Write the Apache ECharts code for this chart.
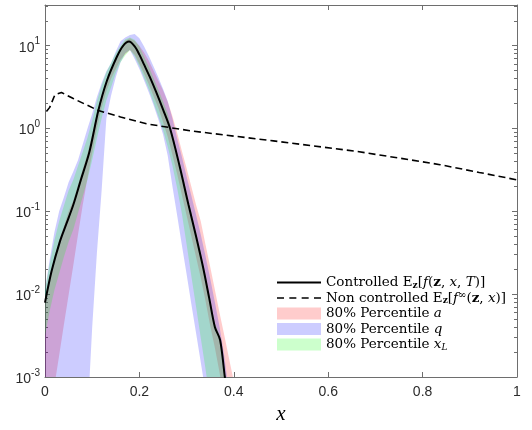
<!DOCTYPE html>
<html><head><meta charset="utf-8">
<script src="https://cdn.jsdelivr.net/npm/echarts@6/dist/echarts.min.js"></script>
<style>html,body{margin:0;padding:0;background:#fff}#c{width:532px;height:430px}</style>
</head><body><div id="c"></div>
<script>
// ---- data ----
const blackX = [0.000,0.014,0.032,0.045,0.060,0.075,0.094,0.113,0.131,0.152,0.165,0.178,0.190,0.200,0.210,0.222,0.235,0.250,0.265,0.285,0.304,0.320,0.335,0.348,0.360,0.371,0.381,0.386];
const blackY = [0.0079,0.019,0.044,0.07,0.12,0.23,0.52,1.65,3.75,7.3,9.9,11.2,9.8,7.8,5.9,4.2,2.8,1.7,1.0,0.355,0.12,0.050,0.021,0.0089,0.0040,0.0028,0.0010,0.0006];

const dashX = [0.003,0.010,0.021,0.035,0.060,0.113,0.160,0.215,0.307,0.400,0.484,0.570,0.660,0.750,0.837,0.920,1.000];
const dashY = [1.60,1.80,2.56,2.72,2.30,1.65,1.38,1.14,0.94,0.81,0.71,0.615,0.53,0.44,0.366,0.295,0.24];

const bandX = [0,0.01,0.02,0.03,0.04,0.05,0.06,0.07,0.08,0.09,0.10,0.11,0.12,0.13,0.14,0.15,0.16,0.17,0.18,0.19,0.20,0.21,0.22,0.23,0.24,0.25,0.26,0.27,0.28,0.29,0.30,0.31,0.32,0.33,0.34,0.35,0.36,0.37,0.38,0.39,0.40,0.41];

const aLower = [0.00032,0.0005,0.00079,0.00182,0.00427,0.00977,0.0224,0.0525,0.12,0.251,0.501,1.0,1.78,2.82,3.98,5.25,6.76,7.94,8.9,7.76,6.03,4.57,3.39,2.45,1.78,1.20,0.794,0.479,0.282,0.158,0.0891,0.0501,0.0282,0.0158,0.00832,0.00417,0.00224,0.00112,0.0005,0.00025,0.00016,0.0001];
const aUpper = [0.00891,0.0166,0.0282,0.0447,0.0661,0.1,0.135,0.209,0.324,0.501,0.851,1.51,2.51,3.89,5.25,7.24,9.33,11.5,12.3,11.5,10.0,8.3,6.6,5.0,3.8,2.9,2.1,1.41,0.891,0.537,0.331,0.2,0.12,0.0759,0.0398,0.0214,0.0112,0.00589,0.00316,0.00166,0.00089,0.0004];

const qLower = [0.0001,0.0001,0.0001,0.0001,0.0001,0.0001,0.0001,0.0001,0.0001,0.00032,0.00398,0.0316,0.178,1.32,2.51,4.17,6.31,8.1,8.9,6.9,5.25,3.8,2.72,1.91,1.29,0.85,0.468,0.2,0.0891,0.0389,0.0174,0.00759,0.00339,0.00151,0.00066,0.0001,0.0001,0.0001,0.0001,0.0001,0.0001,0.0001];
const qUpper = [0.0112,0.0263,0.0562,0.1,0.148,0.224,0.302,0.417,0.646,1.0,1.51,2.40,3.55,4.90,6.17,8.51,11.3,12.6,13.5,13.8,12.3,9.8,7.5,5.62,4.17,3.02,2.14,1.32,0.759,0.457,0.263,0.155,0.0912,0.0525,0.0288,0.0155,0.00794,0.00398,0.00178,0.00063,0.00025,0.0001];

const xLLower = [0.00316,0.00631,0.0112,0.0178,0.0282,0.0427,0.0603,0.0955,0.151,0.240,0.417,0.759,1.32,2.19,3.16,4.68,6.31,7.59,8.9,7.41,5.62,4.07,2.95,2.04,1.41,0.955,0.603,0.355,0.19,0.0933,0.0398,0.0166,0.00708,0.00295,0.00126,0.0005,0.0001,0.0001,0.0001,0.0001,0.0001,0.0001];
const xLUpper = [0.0112,0.0234,0.0447,0.0759,0.117,0.178,0.240,0.355,0.525,0.776,1.26,2.14,3.31,4.79,6.17,8.13,10.0,12.0,12.6,11.8,9.8,7.4,5.56,4.07,2.95,2.14,1.51,0.851,0.513,0.309,0.170,0.0977,0.0562,0.0316,0.0170,0.00871,0.00447,0.00316,0.00126,0.0004,0.0001,0.0001];

const yMajorTicks = [0.001,0.01,0.1,1,10];
const yMinorTicks = [0.002,0.003,0.004,0.005,0.006,0.007,0.008,0.009,0.02,0.03,0.04,0.05,0.06,0.07,0.08,0.09,0.2,0.3,0.4,0.5,0.6,0.7,0.8,0.9,2,3,4,5,6,7,8,9,20,30];

const legendLabels = {
  ctrl: 'Controlled E{sub|z}[{it|f}({bz|z}, {it|x}, {it|T})]',
  nonctrl: 'Non controlled E{sub|z}[{it|f}{sup|∞}({bz|z}, {it|x})]',
  a: '80% Percentile {it|a}',
  q: '80% Percentile {it|q}',
  xL: '80% Percentile {it|x}{subL|L}'
};

// ---- chart ----
const AX = '#6e6e6e';
const LBL = '#2b2b2b';
const chart = echarts.init(document.getElementById('c'), null, {renderer: 'canvas'});

function band(name, lower, upper, color) {
  return {
    name: name, type: 'custom', silent: true, clip: true,
    itemStyle: {color: color}, emphasis: {disabled: true},
    encode: {x: 0, y: [1, 2]},
    data: bandX.map((x, i) => [x, lower[i], upper[i]]),
    renderItem: function (params, api) {
      if (params.dataIndex !== 0) return null;
      const pts = [];
      for (let i = 0; i < bandX.length; i++) pts.push(api.coord([bandX[i], upper[i]]));
      for (let i = bandX.length - 1; i >= 0; i--) pts.push(api.coord([bandX[i], lower[i]]));
      const cs = params.coordSys;
      return {
        type: 'polygon', shape: {points: pts}, style: {fill: color},
        clipPath: {type: 'rect', shape: {x: cs.x, y: cs.y, width: cs.width, height: cs.height}}
      };
    }
  };
}

const yCommon = {type: 'log', min: 0.001, max: 31, splitLine: {show: false}};
const SERIF = 'DejaVu Serif';
const serifRich = {
  it: {fontFamily: SERIF, fontSize: 13.5, fontStyle: 'italic', lineHeight: 15},
  bz: {fontFamily: SERIF, fontSize: 13.5, fontWeight: 'bold', lineHeight: 15},
  sub: {fontFamily: SERIF, fontSize: 9, fontWeight: 'bold', verticalAlign: 'bottom', lineHeight: 9},
  subL: {fontFamily: SERIF, fontSize: 9, fontStyle: 'italic', verticalAlign: 'bottom', lineHeight: 9},
  sup: {fontFamily: SERIF, fontSize: 10, verticalAlign: 'top', lineHeight: 10}
};

const solidIcon = 'path://M0,0H44V2H0Z';
const dashIcon = 'path://M0,0H7V1.7H0Z M12.3,0H19.3V1.7H12.3Z M24.6,0H31.6V1.7H24.6Z M36.9,0H43.9V1.7H36.9Z';

chart.setOption({
  animation: false,
  backgroundColor: '#fff',
  grid: {left: 45, right: 15, top: 5, bottom: 53, containLabel: false},
  xAxis: [
    {type: 'value', min: 0, max: 1, interval: 0.2, position: 'bottom',
     axisLine: {onZero: false, lineStyle: {color: AX, width: 1}},
     axisTick: {inside: true, length: 5, lineStyle: {color: AX}},
     axisLabel: {color: LBL, fontFamily: 'Liberation Sans', fontSize: 14, margin: 8},
     splitLine: {show: false},
     name: 'x', nameLocation: 'middle', nameGap: 20,
     nameTextStyle: {fontFamily: 'Liberation Serif', fontStyle: 'italic', fontSize: 21, color: '#000'}},
    {type: 'value', min: 0, max: 1, interval: 0.2, position: 'top',
     axisLine: {onZero: false, lineStyle: {color: AX, width: 1}},
     axisTick: {inside: true, length: 5, lineStyle: {color: AX}},
     axisLabel: {show: false}, splitLine: {show: false}}
  ],
  yAxis: [
    Object.assign({}, yCommon, {position: 'left',
      axisLine: {show: true, lineStyle: {color: AX, width: 1}},
      axisTick: {show: true, inside: true, length: 5, customValues: yMajorTicks, lineStyle: {color: AX}},
      axisLabel: {customValues: yMajorTicks, margin: 5, color: LBL,
        formatter: v => '{b|10}{s|' + Math.round(Math.log10(v)) + '}',
        rich: {b: {fontFamily: 'Liberation Sans', fontSize: 14, color: LBL, lineHeight: 18, verticalAlign: 'bottom'},
               s: {fontFamily: 'Liberation Sans', fontSize: 10, color: LBL, lineHeight: 10, verticalAlign: 'top'}}}}),
    Object.assign({}, yCommon, {position: 'left',
      axisLine: {show: false},
      axisTick: {show: true, inside: true, length: 3, customValues: yMinorTicks, lineStyle: {color: AX}},
      axisLabel: {show: false}}),
    Object.assign({}, yCommon, {position: 'right',
      axisLine: {show: true, lineStyle: {color: AX, width: 1}},
      axisTick: {show: true, inside: true, length: 5, customValues: yMajorTicks, lineStyle: {color: AX}},
      axisLabel: {show: false}}),
    Object.assign({}, yCommon, {position: 'right',
      axisLine: {show: false},
      axisTick: {show: true, inside: true, length: 3, customValues: yMinorTicks, lineStyle: {color: AX}},
      axisLabel: {show: false}})
  ],
  legend: {
    orient: 'vertical', left: 277, top: 275, padding: 0, itemGap: 0.5,
    itemWidth: 44, itemHeight: 12, selectedMode: false,
    data: [
      {name: 'ctrl', icon: solidIcon, itemStyle: {color: '#000', borderWidth: 0}},
      {name: 'nonctrl', icon: dashIcon, itemStyle: {color: '#000', borderWidth: 0}},
      {name: 'a', icon: 'rect', itemStyle: {color: 'rgb(255,204,204)', borderWidth: 0}},
      {name: 'q', icon: 'rect', itemStyle: {color: 'rgb(204,204,255)', borderWidth: 0}},
      {name: 'xL', icon: 'rect', itemStyle: {color: 'rgb(204,255,204)', borderWidth: 0}}
    ],
    formatter: n => legendLabels[n],
    textStyle: {fontFamily: SERIF, fontSize: 13.5, lineHeight: 15, color: '#000', rich: serifRich}
  },
  series: [
    band('a', aLower, aUpper, 'rgba(255,0,0,0.2)'),
    band('q', qLower, qUpper, 'rgba(0,0,255,0.2)'),
    band('xL', xLLower, xLUpper, 'rgba(0,255,0,0.2)'),
    {name: 'nonctrl', type: 'line', symbol: 'none', silent: true, emphasis: {disabled: true},
     itemStyle: {color: '#000'}, lineStyle: {color: '#000', width: 1.6, type: [7, 4]},
     data: dashX.map((x, i) => [x, dashY[i]])},
    {name: 'ctrl', type: 'line', symbol: 'none', silent: true, emphasis: {disabled: true}, smooth: 0.3,
     itemStyle: {color: '#000'}, lineStyle: {color: '#000', width: 2},
     data: blackX.map((x, i) => [x, blackY[i]])}
  ]
});
</script></body></html>
